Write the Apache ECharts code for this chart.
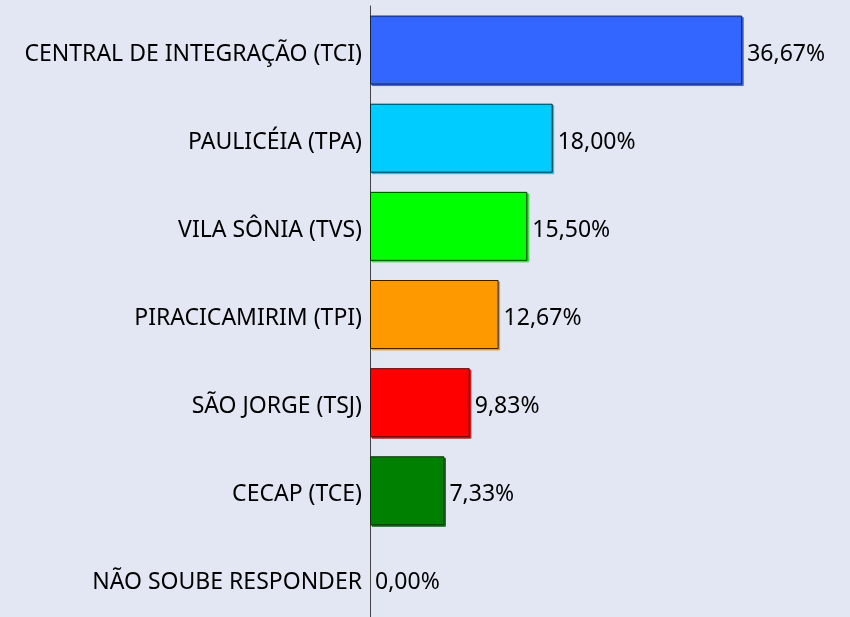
<!DOCTYPE html>
<html>
<head>
<meta charset="utf-8">
<script src="https://cdn.jsdelivr.net/npm/echarts@6/dist/echarts.min.js"></script>
<style>
html,body{margin:0;padding:0;background:#E3E7F3;}
#chart{width:850px;height:617px;}
</style>
</head>
<body>
<div id="chart"></div>
<script>
var categories = ['CENTRAL DE INTEGRAÇÃO (TCI)', 'PAULICÉIA (TPA)', 'VILA SÔNIA (TVS)', 'PIRACICAMIRIM (TPI)', 'SÃO JORGE (TSJ)', 'CECAP (TCE)', 'NÃO SOUBE RESPONDER'];
var values = [36.67, 18.00, 15.50, 12.67, 9.83, 7.33, 0.00];
var colors = ['#3366FF', '#00CCFF', '#00FF00', '#FF9900', '#FF0000', '#008000', '#999999'];

function initChart(elem){
	var myChart = echarts.init(document.getElementById(elem));
	var seriesData = [];
	for(var i=0;i<values.length;i++){
		var zero = values[i] === 0;
		seriesData.push({
			value: values[i],
			itemStyle: {
				color: zero ? 'transparent' : colors[i],
				borderWidth: zero ? 0 : 1,
				shadowColor: zero ? 'transparent' : colors[i],
				shadowOffsetX: 1.5,
				shadowOffsetY: 1.5
			}
		});
	}
	var option = {
		backgroundColor: '#E3E7F3',
		animation: false,
		grid: {left: 370, right: 74, top: 6, height: 617, outerBoundsMode: 'none', containLabel: false},
		xAxis: {
			type: 'value',
			min: 0,
			max: 40,
			show: false
		},
		yAxis: {
			type: 'category',
			inverse: true,
			data: categories,
			axisLine: {lineStyle: {color: '#444', width: 1}},
			axisTick: {show: false},
			axisLabel: {
				margin: 8,
				formatter: function(v){ return '{a|' + v + '}'; },
				rich: {a: {color: '#000', fontSize: 23, fontFamily: 'Noto Sans', padding: [8, 0, 0, 0]}}
			}
		},
		series: [{
			type: 'bar',
			data: seriesData,
			barWidth: 69,
			itemStyle: {borderColor: '#222', borderWidth: 1},
			label: {
				show: true,
				position: 'right',
				distance: 5,
				offset: [0, 4],
				color: '#000',
				fontSize: 23,
				fontFamily: 'Noto Sans',
				formatter: function(p){ return p.value.toFixed(2).replace('.', ',') + '%'; }
			}
		}]
	};
	myChart.setOption(option);
}
initChart('chart');
</script>
</body>
</html>
